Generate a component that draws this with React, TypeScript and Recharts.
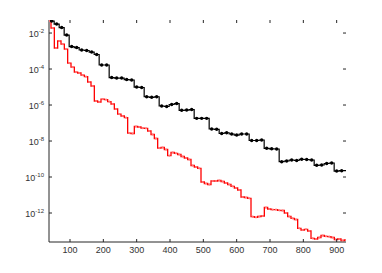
import { LineChart, Line, XAxis, YAxis } from 'recharts';

// plot box in page pixels
const LEFT = 49;
const TOP = 20;
const RIGHT = 346;
const BOTTOM = 242;
const W = 382;
const H = 273;

// black curve: marked every 15 iterations, line runs edge to edge
const blackIter = [
  37, 45, 60, 75, 90, 105, 120, 135, 150, 165,
  180, 195, 210, 225, 240, 255, 270, 285, 300, 315,
  330, 345, 360, 375, 390, 405, 420, 435, 450, 465,
  480, 495, 510, 525, 540, 555, 570, 585, 600, 615,
  630, 645, 660, 675, 690, 705, 720, 735, 750, 765,
  780, 795, 810, 825, 840, 855, 870, 885, 900, 915,
  928,
];

const blackErr = [
  5.27e-2, 4.64e-2, 3.16e-2, 2.02e-2, 7.74e-3, 1.78e-3, 1.56e-3, 1.14e-3, 1.07e-3, 8.8e-4,
  6.4e-4, 1.67e-4, 1.67e-4, 3.37e-5, 3.16e-5, 3.16e-5, 2.61e-5, 2.45e-5, 1.0e-5, 9.4e-6,
  2.89e-6, 2.68e-6, 2.89e-6, 8.8e-7, 8.26e-7, 1.07e-6, 1.21e-6, 5.08e-7, 5.27e-7, 5.62e-7,
  1.82e-7, 1.82e-7, 1.82e-7, 4.64e-8, 4.47e-8, 2.61e-8, 2.89e-8, 2.45e-8, 2.15e-8, 2.45e-8,
  2.45e-8, 1.07e-8, 1.07e-8, 1.14e-8, 3.93e-9, 3.69e-9, 3.6e-9, 7.08e-10, 7.74e-10, 8.8e-10,
  8.26e-10, 9.62e-10, 9.4e-10, 8.8e-10, 4.47e-10, 4.64e-10, 5.62e-10, 6.0e-10, 2.15e-10, 2.24e-10,
  2.24e-10,
];

const redIter = [
  38, 48, 58, 68, 78, 88, 98, 108, 118, 128,
  138, 148, 158, 168, 178, 188, 198, 208, 218, 228,
  238, 248, 258, 268, 278, 288, 298, 308, 318, 328,
  338, 348, 358, 368, 378, 388, 398, 408, 418, 428,
  438, 448, 458, 468, 478, 488, 498, 508, 518, 528,
  538, 548, 558, 568, 578, 588, 598, 608, 618, 628,
  638, 648, 658, 668, 678, 688, 698, 708, 718, 728,
  738, 748, 758, 768, 778, 788, 798, 808, 818, 828,
  838, 848, 858, 868, 878, 888, 898, 908, 918, 928,
];

const redErr = [
  4.64e-2, 1.9e-2, 1.47e-3, 3.6e-3, 2.45e-3, 1.29e-3, 2.15e-4, 1.29e-4, 6.8e-5, 6.0e-5,
  4.64e-5, 3.83e-5, 1.9e-5, 1.14e-5, 1.67e-6, 1.47e-6, 2.15e-6, 2.02e-6, 1.56e-6, 1.14e-6,
  6.0e-7, 3.16e-7, 2.45e-7, 2.02e-7, 2.78e-8, 2.61e-8, 6.4e-8, 6.0e-8, 5.27e-8, 5.08e-8,
  3.6e-8, 2.3e-8, 1.38e-8, 4.08e-9, 4.36e-9, 3.37e-9, 1.56e-9, 2.3e-9, 2.07e-9, 1.78e-9,
  1.38e-9, 1.14e-9, 9.4e-10, 4.36e-10, 3.6e-10, 3.04e-10, 5.27e-11, 4.36e-11, 3.83e-11, 6.0e-11,
  6.0e-11, 6.4e-11, 5.62e-11, 4.64e-11, 3.83e-11, 3.04e-11, 2.45e-11, 1.9e-11, 7.74e-12, 7.26e-12,
  6.56e-12, 6.22e-13, 5.77e-13, 6.4e-13, 6.8e-13, 2.02e-12, 1.67e-12, 1.56e-12, 1.56e-12, 1.41e-12,
  1.38e-12, 1.0e-12, 6.4e-13, 5.08e-13, 4.36e-13, 1.41e-13, 1.14e-13, 1.24e-13, 1.0e-13, 3.93e-14,
  3.6e-14, 4.36e-14, 5.62e-14, 5.08e-14, 4.82e-14, 4.36e-14, 3.37e-14, 3.6e-14, 2.96e-14, 3.16e-14,
];

const xTicks = [100, 200, 300, 400, 500, 600, 700, 800, 900];
const yTicks = [1e-12, 1e-10, 1e-8, 1e-6, 1e-4, 1e-2];

const blackData = blackIter.map((x, i) => ({ x, err: blackErr[i] }));
const redData = redIter.map((x, i) => ({ x, err: redErr[i] }));

const AXIS = '#262626';
const LABEL = '#333333';
const FONT = '"Liberation Sans", Arial, sans-serif';

function XTick({ x, payload }: any) {
  return (
    <g>
      <line x1={x} x2={x} y1={BOTTOM} y2={BOTTOM - 3} stroke={AXIS} strokeWidth={1} />
      <line x1={x} x2={x} y1={TOP} y2={TOP + 3} stroke={AXIS} strokeWidth={1} />
      <text x={x} y={BOTTOM + 11} textAnchor="middle" fontSize={9} fill={LABEL} fontFamily={FONT}>
        {payload.value}
      </text>
    </g>
  );
}

function YTick({ y, payload }: any) {
  const exp = Math.round(Math.log10(payload.value));
  return (
    <g>
      <line x1={LEFT} x2={LEFT + 3} y1={y} y2={y} stroke={AXIS} strokeWidth={1} />
      <line x1={RIGHT} x2={RIGHT - 3} y1={y} y2={y} stroke={AXIS} strokeWidth={1} />
      <text x={LEFT - 5} y={y + 3.5} textAnchor="end" fontSize={9} fill={LABEL} fontFamily={FONT}>
        <tspan>10</tspan>
        <tspan dy={-4} fontSize={6}>{exp}</tspan>
      </text>
    </g>
  );
}

// markers on the black curve, not on the two end points that only carry the line to the frame
function BlackDot(props: any) {
  const { cx, cy, index } = props;
  if (index === 0 || index === blackData.length - 1) return <g key={`bd-${index}`} />;
  return <circle key={`bd-${index}`} cx={cx} cy={cy} r={1.7} fill="#000" />;
}

export default function App() {
  return (
    <div style={{ position: 'absolute', left: 0, top: 0, width: W, height: H, background: '#fff' }}>
      <LineChart width={W} height={H} margin={{ top: TOP, right: W - RIGHT, bottom: 0, left: 0 }}>
        <XAxis
          dataKey="x"
          type="number"
          domain={[37, 928]}
          ticks={xTicks}
          allowDataOverflow
          height={H - BOTTOM}
          tickLine={false}
          stroke={AXIS}
          tick={<XTick />}
        />
        <XAxis xAxisId="top" orientation="top" dataKey="x" type="number" domain={[37, 928]} height={0} tick={false} tickLine={false} stroke={AXIS} />
        <YAxis
          dataKey="err"
          type="number"
          scale="log"
          domain={[2.45e-14, 5.3e-2]}
          ticks={yTicks}
          allowDataOverflow
          width={LEFT}
          tickLine={false}
          stroke={AXIS}
          tick={<YTick />}
        />
        <YAxis yAxisId="right" orientation="right" width={0} tick={false} tickLine={false} stroke={AXIS} />
        <Line
          data={redData}
          type="step"
          dataKey="err"
          stroke="#ff0000"
          strokeWidth={1.3}
          dot={{ r: 1.1, fill: '#ff7a7a', stroke: 'none' }}
          isAnimationActive={false}
        />
        <Line
          data={blackData}
          type="step"
          dataKey="err"
          stroke="#000000"
          strokeWidth={1.2}
          dot={BlackDot}
          isAnimationActive={false}
        />
      </LineChart>
    </div>
  );
}
